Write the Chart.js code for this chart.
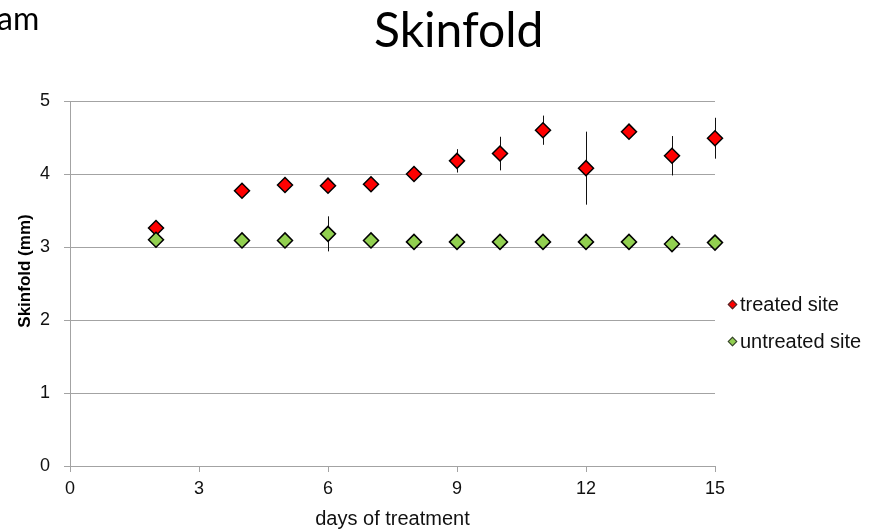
<!DOCTYPE html>
<html lang="en">
<head>
  <meta charset="UTF-8" />
  <title>Skinfold</title>
  <script src="https://cdn.jsdelivr.net/npm/chart.js"></script>
  <style>
    body { margin: 0; background: #fff; }
    #wrap { position: relative; width: 872px; height: 531px; overflow: hidden; }
    #chart { position: absolute; left: 0; top: 0; }
    .slideText { position: absolute; font-family: 'Lato', sans-serif; color: #000; white-space: nowrap; line-height: 1; }
    #cut { left: -3px; top: 2px; font-size: 32px; }
    #title { left: 374px; top: 5px; font-size: 48px; }
    #ytitle { position: absolute; left: 25px; top: 271px; transform: translate(-50%, -50%) rotate(-90deg);
              font-family: 'Liberation Sans', Arial, sans-serif; font-weight: bold; font-size: 17px; color: #000; white-space: nowrap; }
    .legend { position: absolute; left: 726px; font-family: 'Liberation Sans', Arial, sans-serif; font-size: 20px; color: #111; white-space: nowrap; line-height: 20px; }
    .legend i { display: inline-block; width: 5px; height: 5px; border: 1px solid #333; transform: rotate(45deg); margin: 0 4px 3px 3px; vertical-align: middle; }
  </style>
</head>
<body>
  <div id="wrap">
    <canvas id="chart" width="872" height="531"></canvas>
    <div class="slideText" id="cut">am</div>
    <div class="slideText" id="title">Skinfold</div>
    <div id="ytitle">Skinfold (mm)</div>
    <div class="legend" style="top:294px"><i style="background:#ff0000"></i>treated site</div>
    <div class="legend" style="top:331px"><i style="background:#92d050"></i>untreated site</div>
  </div>

  <script>
    // values
    const days = [2, 4, 5, 6, 7, 8, 9, 10, 11, 12, 13, 14, 15];
    const treated = [3.26, 3.77, 3.85, 3.84, 3.86, 4.0, 4.18, 4.28, 4.60, 4.08, 4.58, 4.25, 4.49];
    const treatedErr = [0.05, 0.04, 0.04, 0.04, 0.04, 0.05, 0.16, 0.23, 0.2, 0.5, 0.05, 0.27, 0.28];
    const untreated = [3.10, 3.09, 3.09, 3.18, 3.09, 3.07, 3.07, 3.07, 3.07, 3.07, 3.07, 3.04, 3.06];
    const untreatedErr = [0.03, 0.03, 0.03, 0.24, 0.03, 0.03, 0.03, 0.03, 0.03, 0.03, 0.03, 0.03, 0.03];
    const xTicks = [0, 3, 6, 9, 12, 15];
    const yTicks = [0, 1, 2, 3, 4, 5];

    const tickFont = { family: 'Liberation Sans', size: 18 };
    const gridColor = '#a3a3a3';

    function toPoints(ys) {
      return days.map((d, i) => ({ x: d, y: ys[i] }));
    }

    // vertical error bars, drawn behind the markers
    const errorBars = {
      id: 'errorBars',
      beforeDatasetsDraw(chart) {
        const ctx = chart.ctx;
        const yScale = chart.scales.y;
        ctx.save();
        ctx.strokeStyle = '#111';
        ctx.lineWidth = 1;
        chart.data.datasets.forEach((ds, di) => {
          const meta = chart.getDatasetMeta(di);
          meta.data.forEach((pt, i) => {
            const v = ds.data[i].y;
            const e = ds.errors[i];
            const x = Math.round(pt.x) + 0.5;
            ctx.beginPath();
            ctx.moveTo(x, yScale.getPixelForValue(v + e));
            ctx.lineTo(x, yScale.getPixelForValue(v - e));
            ctx.stroke();
          });
        });
        ctx.restore();
      }
    };

    new Chart(document.getElementById('chart').getContext('2d'), {
      type: 'scatter',
      data: {
        datasets: [
          {
            label: 'treated site',
            data: toPoints(treated),
            errors: treatedErr,
            pointStyle: 'rectRot',
            pointRadius: 7.5,
            pointHoverRadius: 7.5,
            backgroundColor: '#ff0000',
            borderColor: '#000',
            borderWidth: 1.5,
            order: 1,
            clip: false
          },
          {
            label: 'untreated site',
            data: toPoints(untreated),
            errors: untreatedErr,
            pointStyle: 'rectRot',
            pointRadius: 7.5,
            pointHoverRadius: 7.5,
            backgroundColor: '#92d050',
            borderColor: '#000',
            borderWidth: 1.5,
            order: 0,
            clip: false
          }
        ]
      },
      options: {
        responsive: false,
        animation: false,
        devicePixelRatio: 1,
        layout: { padding: { top: 101, right: 157, left: 0, bottom: 0 } },
        plugins: {
          legend: { display: false },
          tooltip: { enabled: false }
        },
        scales: {
          x: {
            type: 'linear',
            min: 0,
            max: 15,
            afterFit: (s) => { s.height = 65; },
            afterBuildTicks: (s) => { s.ticks = xTicks.map(v => ({ value: v })); },
            ticks: { font: tickFont, color: '#111', padding: 6, maxRotation: 0 },
            grid: { drawOnChartArea: false, drawTicks: true, tickLength: 6, color: gridColor },
            border: { color: gridColor },
            title: {
              display: true,
              text: 'days of treatment',
              font: { family: 'Liberation Sans', size: 20 },
              color: '#111',
              padding: { top: 0, bottom: 0 }
            }
          },
          y: {
            min: 0,
            max: 5,
            afterFit: (s) => { s.width = 70; },
            afterBuildTicks: (s) => { s.ticks = yTicks.map(v => ({ value: v })); },
            ticks: { font: tickFont, color: '#111', padding: 14 },
            grid: { color: gridColor, tickLength: 6 },
            border: { color: gridColor }
          }
        }
      },
      plugins: [errorBars]
    });
  </script>
</body>
</html>
